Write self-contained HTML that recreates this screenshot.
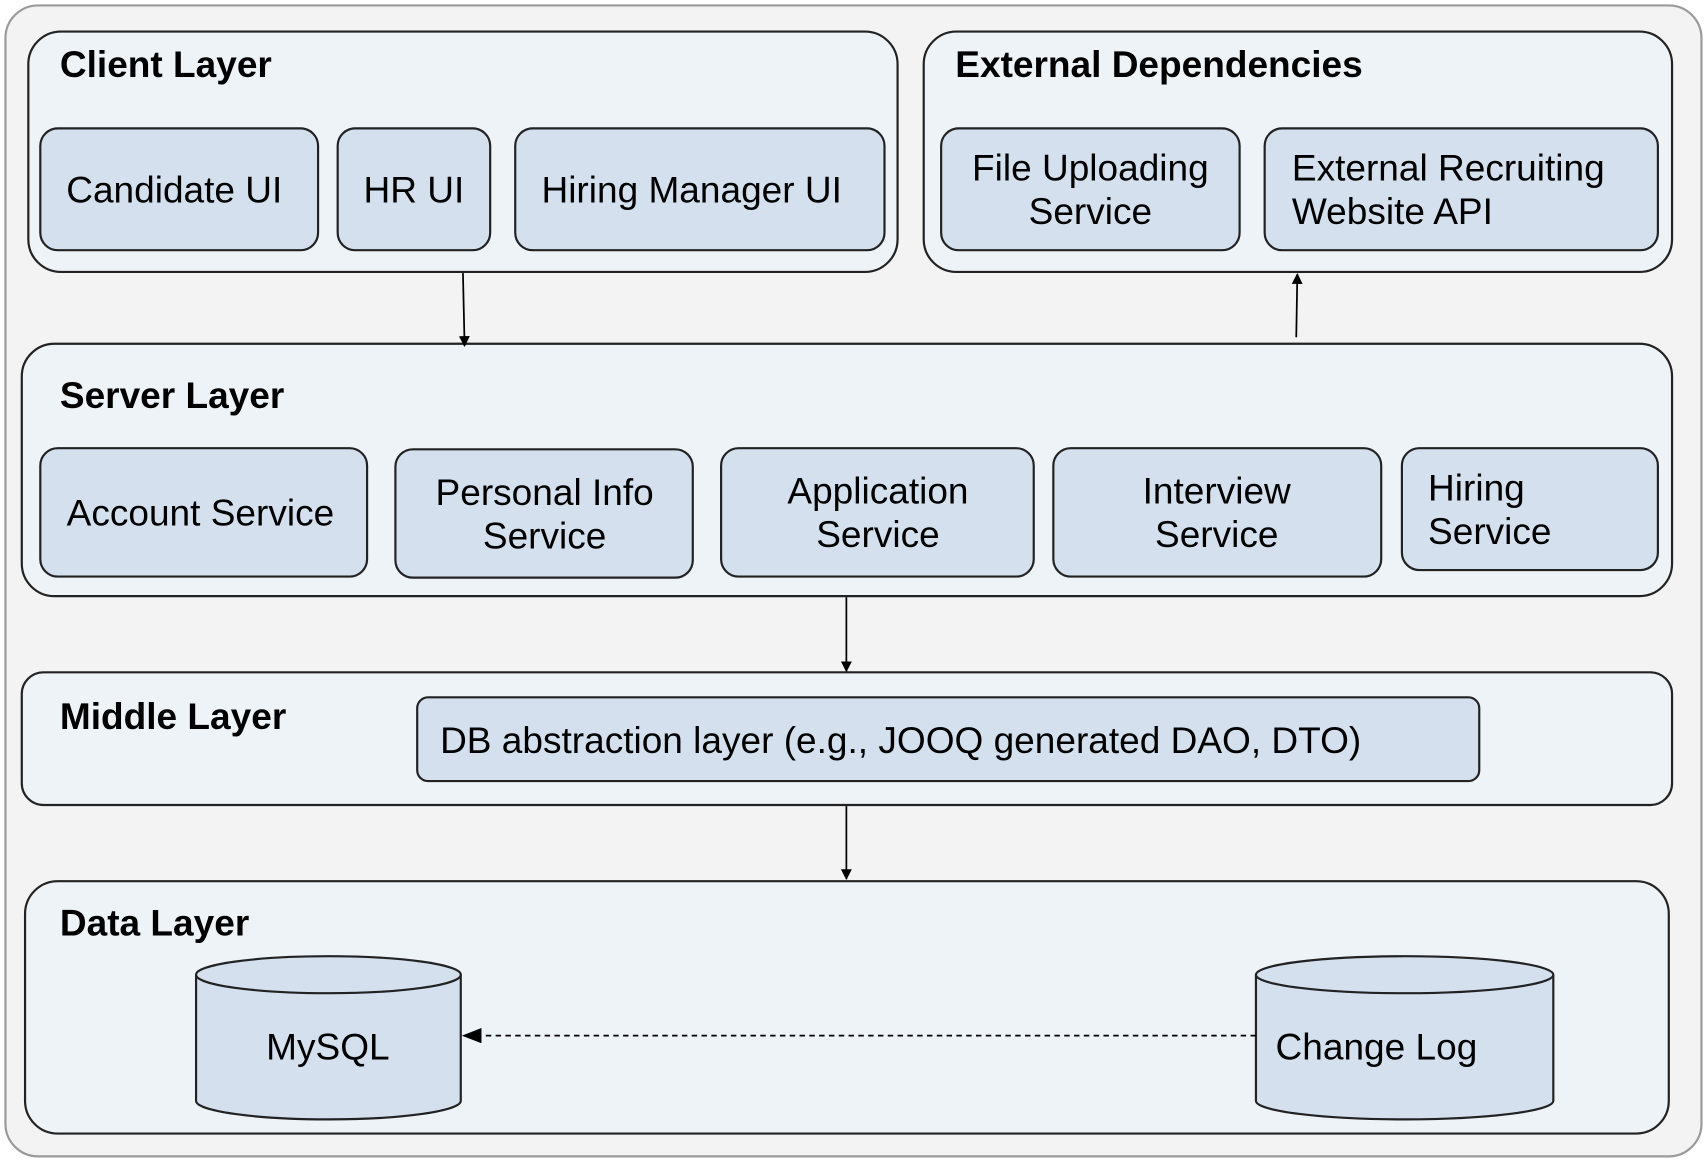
<!DOCTYPE html>
<html><head><meta charset="utf-8"><style>
html,body{margin:0;padding:0;background:#fff;}
svg{display:block}
text{font-family:"Liberation Sans",Arial,sans-serif;fill:#000}
.t{font-size:34px}
.b{font-size:34px;font-weight:bold}
</style></head><body>
<svg width="1708" height="1164" viewBox="0 0 1568 1070" preserveAspectRatio="none" xmlns="http://www.w3.org/2000/svg">
<defs><marker id="a" markerWidth="10" markerHeight="10" refX="9" refY="5" orient="auto" markerUnits="userSpaceOnUse"><path d="M0,0 L10,5 L0,10 z" fill="#000"/></marker>
<marker id="a2" markerWidth="18" markerHeight="14" refX="17" refY="7" orient="auto" markerUnits="userSpaceOnUse"><path d="M0,0 L18,7 L0,14 z" fill="#000"/></marker></defs>
<rect x="5" y="5" width="1557" height="1058" rx="30" fill="#f3f3f3" stroke="#9a9a9a" stroke-width="2"/>
<g stroke="#222" stroke-width="2">
<rect x="26" y="29" width="798" height="221" rx="30" fill="#eef3f8"/>
<rect x="848" y="29" width="687" height="221" rx="30" fill="#eef3f8"/>
<rect x="20" y="316" width="1515" height="232" rx="30" fill="#eef3f8"/>
<rect x="20" y="618" width="1515" height="122" rx="20" fill="#eef3f8"/>
<rect x="23" y="810" width="1509" height="232" rx="30" fill="#eef3f8"/>
<g fill="#d4e0ee">
<rect x="37" y="118" width="255" height="112" rx="16"/>
<rect x="310" y="118" width="140" height="112" rx="16"/>
<rect x="473" y="118" width="339" height="112" rx="16"/>
<rect x="864" y="118" width="274" height="112" rx="16"/>
<rect x="1161" y="118" width="361" height="112" rx="16"/>
<rect x="37" y="412" width="300" height="118" rx="16"/>
<rect x="363" y="413" width="273" height="118" rx="16"/>
<rect x="662" y="412" width="287" height="118" rx="16"/>
<rect x="967" y="412" width="301" height="118" rx="16"/>
<rect x="1287" y="412" width="235" height="112" rx="16"/>
<rect x="383" y="641" width="975" height="77" rx="10"/>
<path d="M180,896 V1012 A121.5,17 0 0 0 423,1012 V896"/>
<ellipse cx="301.5" cy="896" rx="121.5" ry="17"/>
<path d="M1153,896 V1012 A136.5,17 0 0 0 1426,1012 V896"/>
<ellipse cx="1289.5" cy="896" rx="136.5" ry="17"/>
</g>
</g>
<g stroke="#000" stroke-width="1.6" fill="none">
<line x1="425" y1="251" x2="426.5" y2="318" marker-end="url(#a)"/>
<line x1="1190" y1="310" x2="1191" y2="252" marker-end="url(#a)"/>
<line x1="777" y1="549" x2="777" y2="617" marker-end="url(#a)"/>
<line x1="777" y1="741" x2="777" y2="808" marker-end="url(#a)"/>
<line x1="1153" y1="952" x2="425" y2="952" stroke-dasharray="5,4" marker-end="url(#a2)"/>
</g>
<text class="b" x="55" y="71">Client Layer</text>
<text class="b" x="877" y="71">External Dependencies</text>
<text class="b" x="55" y="375">Server Layer</text>
<text class="b" x="55" y="670">Middle Layer</text>
<text class="b" x="55" y="860">Data Layer</text>
<g class="t" text-anchor="middle">
<text x="160" y="186">Candidate UI</text>
<text x="380" y="186">HR UI</text>
<text x="635" y="186">Hiring Manager UI</text>
<text x="1001" y="166">File Uploading</text>
<text x="1001" y="206">Service</text>
<text x="184" y="483">Account Service</text>
<text x="500" y="464">Personal Info</text>
<text x="500" y="504">Service</text>
<text x="806" y="463">Application</text>
<text x="806" y="503">Service</text>
<text x="1117" y="463">Interview</text>
<text x="1117" y="503">Service</text>
<text x="301" y="974">MySQL</text>
</g>
<g class="t">
<text x="1186" y="166">External Recruiting</text>
<text x="1186" y="206">Website API</text>
<text x="1311" y="460">Hiring</text>
<text x="1311" y="500">Service</text>
<text x="404" y="692">DB abstraction layer (e.g., JOOQ generated DAO, DTO)</text>
<text x="1171" y="974">Change Log</text>
</g>
</svg>
</body></html>
